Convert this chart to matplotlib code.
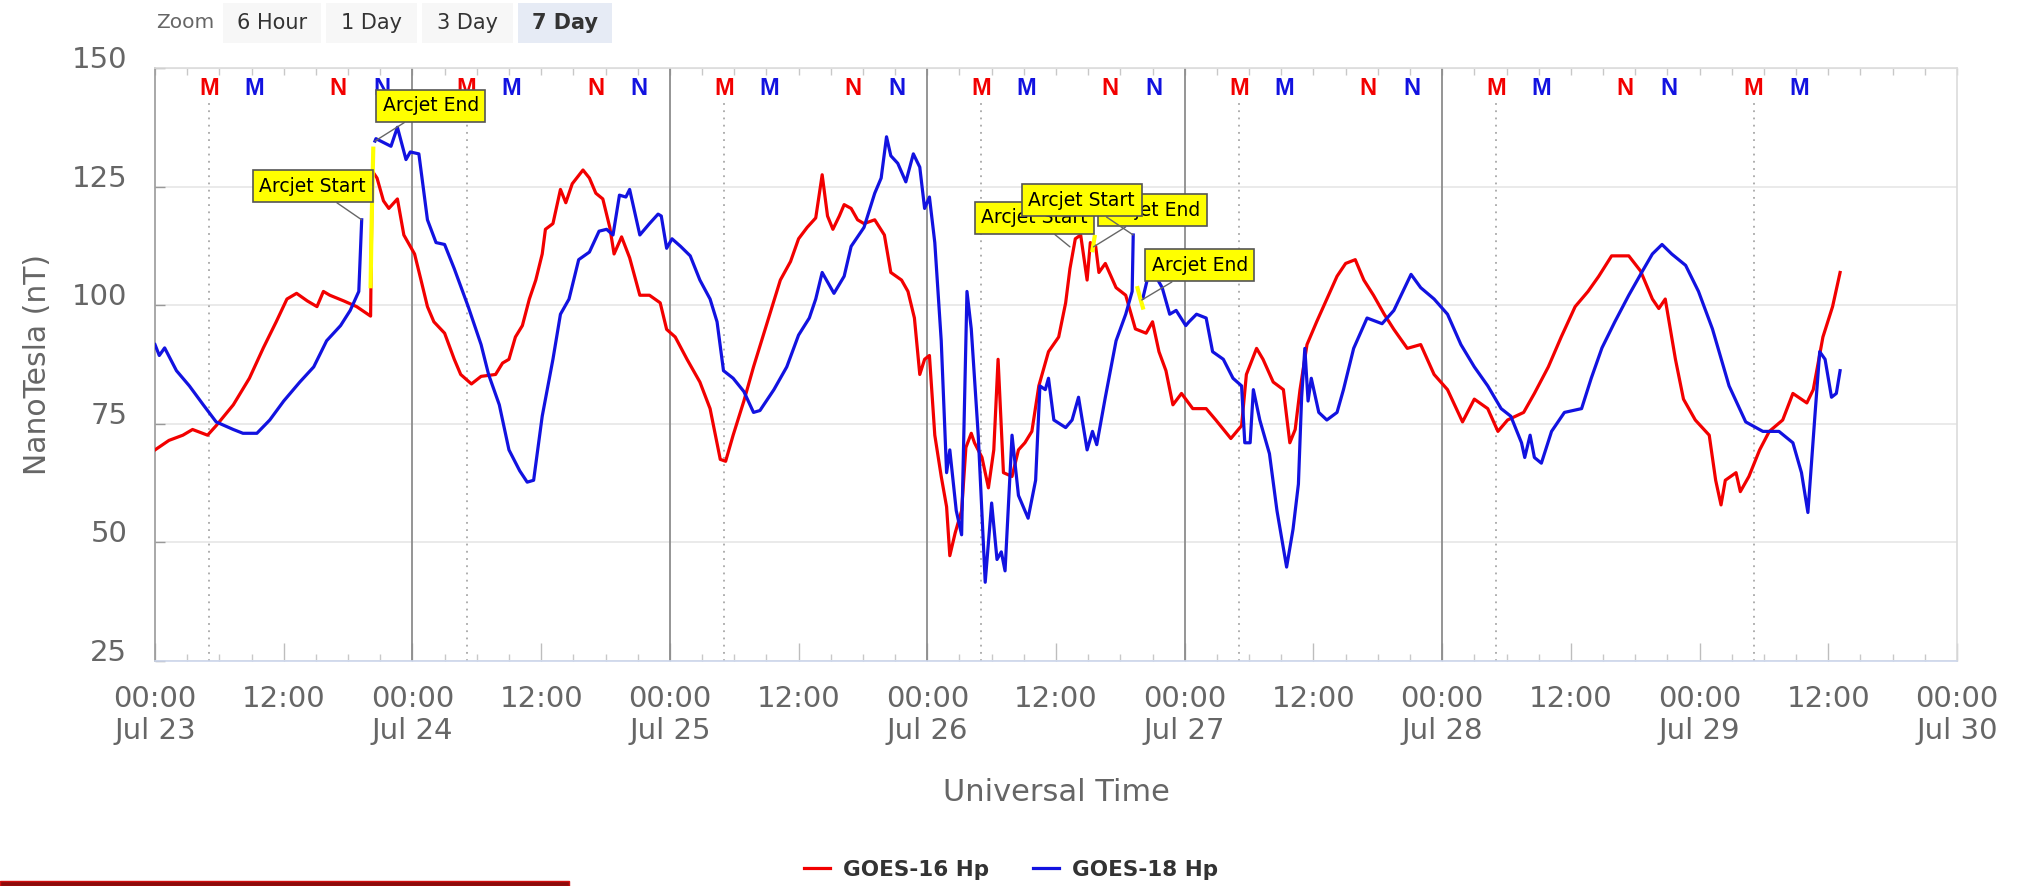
import numpy as np
import matplotlib
matplotlib.use('Agg')
import matplotlib.pyplot as plt
from matplotlib.patches import Rectangle
from matplotlib.lines import Line2D
from matplotlib.ticker import MultipleLocator, FuncFormatter

# x values are hours since Jul 23 00:00 UT
g16_hours = [0, 1.3, 2.6, 3.5, 4.9, 5.7, 7.3, 8.8, 10.1, 11.3, 12.3, 13.2, 14.2, 15.1, 15.7, 16.3,
             17.6, 18.8, 20.1, 20.25, 20.7, 21.3, 21.8, 22.6, 23.2, 24.2, 24.8, 25.4, 26, 27, 27.9,
             28.5, 29.5, 30.4, 31.75, 32.4, 33, 33.6, 34.25, 34.9, 35.5, 36.1, 36.4, 37.1, 37.8,
             38.3, 38.9, 39.9, 40.5, 41.1, 41.75, 42.4, 42.8, 43.5, 44.25, 45.2, 46.1, 47.1, 47.7,
             48.5, 49.6, 50.8, 51.75, 52.7, 53.2, 53.9, 54.9, 55.8, 57.1, 58.3, 59.25, 60, 60.8,
             61.6, 62.2, 62.7, 63.2, 63.8, 64.25, 64.9, 65.5, 66.1, 67.1, 68, 68.6, 69.6, 70.2,
             70.8, 71.3, 71.75, 72.2, 72.7, 73.3, 73.8, 74.1, 74.6, 75.2, 75.6, 76.1, 76.4, 77.1,
             77.7, 78.2, 78.6, 79.1, 79.9, 80.5, 81.1, 81.75, 82.4, 83.3, 84.25, 84.9, 85.3, 85.8,
             86.3, 86.9, 87.2, 87.7, 88, 88.6, 89.6, 90.5, 91.4, 92.4, 93, 93.6, 94.25, 94.9, 95.7,
             96.75, 98, 98.9, 100.3, 101.3, 101.75, 102.7, 103.3, 104.25, 105.2, 105.8, 106.3,
             106.75, 107.4, 108.3, 109.25, 110.2, 111, 111.9, 112.7, 113.6, 114.6, 115.5, 116.75,
             118, 119.25, 120.5, 121.9, 123, 124.25, 125.2, 126.1, 127.6, 128.6, 129.9, 131.1,
             132.4, 133.6, 134.6, 135.8, 137.4, 138.5, 139.6, 140.2, 140.8, 141.75, 142.5, 143.6,
             144.9, 145.5, 146, 146.4, 147.4, 147.8, 148.6, 149.6, 150.5, 151.75, 152.7, 154,
             154.6, 155.5, 156.4, 157.1]
g16_nt = [69.5, 71.5, 72.6, 73.8, 72.6, 74.6, 79, 84.6, 91, 96.5, 101.3, 102.5, 100.9, 99.7, 102.9,
          102.1, 100.9, 99.7, 97.7, 128.3, 126.8, 122, 120.4, 122.4, 114.8, 110.8, 105.3, 99.7, 96.5,
          94.1, 88.6, 85.4, 83.4, 85, 85.4, 87.8, 88.6, 93.3, 95.7, 101.3, 105.3, 110.8, 116, 117.2,
          124.4, 121.6, 125.6, 128.5, 126.8, 123.6, 122.4, 116.4, 110.8, 114.4, 110, 102.1, 102.1,
          100.5, 94.9, 93.3, 88.6, 83.8, 78.2, 67.5, 67.1, 72.6, 79.8, 87, 96.5, 105.3, 109.2, 114,
          116.4, 118.4, 127.5, 118.8, 116, 118.8, 121.2, 120.4, 118, 117.2, 118, 114.8, 106.9,
          105.3, 102.9, 97.3, 85.4, 88.6, 89.4, 72.6, 63.9, 57.5, 47.2, 52, 56.7, 70, 73, 71, 67.9,
          61.5, 69.5, 88.6, 64.7, 63.9, 69.5, 71, 73.4, 83, 90.2, 93.3, 100.5, 107.7, 114, 114.8,
          105.3, 113.2, 112.4, 106.9, 108.8, 103.7, 102.1, 95, 94.1, 96.5, 90.2, 86.2, 79, 81.4,
          78.2, 78.2, 75.8, 71.9, 74.6, 85.4, 90.9, 88.6, 83.8, 82.2, 71, 73.8, 82.2, 91.7, 96.5,
          101.3, 106.1, 108.8, 109.6, 105.3, 102.1, 98.1, 94.9, 90.9, 91.7, 85.4, 82.2, 75.4, 80.2,
          78.2, 73.4, 75.8, 77.4, 81.4, 87, 93.3, 99.7, 102.9, 106.1, 110.4, 110.4, 107.2, 101.3,
          99.3, 101.3, 88.6, 80.2, 75.8, 72.6, 63.1, 57.9, 63.1, 64.7, 60.7, 63.9, 69.5, 73.4, 75.8,
          81.4, 79.4, 82.2, 93.3, 99.7, 106.9]

# nan = no data while the arcjet flag is set
g18_hours = [0, 0.4, 0.9, 2, 3.2, 4.5, 5.7, 7.3, 8.2, 9.5, 10.7, 12, 13.5, 14.8, 16, 17.3, 18.2, 19,
             19.27, 19.8, 20.51, 20.6, 21.3, 22, 22.6, 23.4, 23.8, 24.6, 25.4, 26.2, 27, 27.9, 29.2,
             29.8, 30.4, 31.1, 32.1, 33, 34, 34.7, 35.3, 36.1, 37.1, 37.8, 38.6, 39.5, 40.5, 41.4,
             42.1, 42.7, 43.3, 43.9, 44.25, 45.2, 46.1, 46.9, 47.2, 47.7, 48.2, 49, 49.9, 50.8,
             51.75, 52.4, 53, 53.9, 54.9, 55.8, 56.4, 57.7, 58.9, 60, 61, 61.6, 62.2, 63.3, 64.25,
             64.9, 66.1, 67.1, 67.7, 68.2, 68.6, 69.25, 70, 70.7, 71.3, 71.75, 72.2, 72.7, 73.3,
             73.8, 74.1, 74.7, 75.2, 75.7, 76.1, 76.75, 77.4, 78, 78.5, 78.9, 79.25, 79.9, 80.5,
             81.4, 82.1, 82.5, 83, 83.3, 83.8, 84.9, 85.5, 86.1, 86.9, 87.4, 87.8, 88.6, 89.6, 90.5,
             91.1, 91.2, 91.6, 92.1, 92.5, 93.3, 93.9, 94.6, 95.2, 96.1, 96.4, 97.1, 98, 98.6, 99.6,
             100.5, 101.3, 101.6, 102.1, 102.4, 103, 103.9, 104.6, 105.5, 106.1, 106.6, 106.9,
             107.2, 107.5, 107.8, 108.5, 109.25, 110.2, 110.8, 111.75, 113, 114.4, 115.5, 117.1,
             118, 119.25, 120.5, 121.75, 123, 124.25, 125.5, 126.4, 127.4, 127.7, 128.2, 128.6,
             129.25, 130.2, 131.4, 133, 133.9, 134.9, 136.1, 137.4, 138.6, 139.6, 140.5, 141.4,
             142.7, 143.9, 145.2, 146.75, 148.3, 149.9, 151.4, 152.7, 153.5, 154.1, 154.75, 155.2,
             155.7, 156.3, 156.75, 157.1]
g18_nt = [91.7, 89.4, 91, 86.2, 83, 79, 75.4, 73.8, 73, 73, 75.8, 79.8, 83.8, 87, 92.5, 95.7, 98.9,
          102.9, 118, np.nan, 134.6, 135.1, 134.3, 133.5, 137.5, 130.7, 132.3, 131.9, 118, 113.2,
          112.8, 107.7, 99.7, 95.7, 91.7, 85.4, 79, 69.5, 65.1, 62.7, 63.1, 76.6, 88.6, 98.1, 101.3,
          109.6, 111.2, 115.6, 116, 114.8, 123.2, 122.8, 124.4, 114.8, 117.2, 119.2, 118.8, 112, 114,
          112.4, 110.4, 105.3, 101.3, 96.5, 86.2, 84.6, 81.8, 77.4, 77.8, 82.2, 87, 93.7, 97.3,
          101.3, 106.9, 102.5, 106.1, 112.4, 116.4, 123.6, 126.8, 135.5, 131.5, 129.9, 126, 131.9,
          129.1, 120.4, 122.8, 113.2, 92.5, 64.7, 69.5, 56.7, 51.6, 102.9, 95, 72.6, 41.6, 58.3,
          46.4, 48, 44, 72.6, 59.9, 55.1, 63.1, 83, 82.2, 84.6, 75.8, 74.2, 75.8, 80.6, 69.5, 73.4,
          70.6, 80.6, 92.5, 98.1, 102.9, 114.8, np.nan, 101.5, 105.3, 106.1, 103.7, 98.1, 98.9,
          95.7, 96.5, 98.1, 97.3, 90.2, 88.6, 84.6, 83, 71, 71, 82.2, 75.8, 68.7, 56.7, 44.8, 52.8,
          62.3, 80.6, 90.9, 79.8, 84.6, 77.4, 75.8, 77.4, 82.2, 90.9, 97.3, 96.1, 98.9, 106.5,
          103.7, 101.3, 98.1, 91.7, 87, 83, 78.2, 76.6, 71, 67.9, 72.6, 67.9, 66.7, 73.4, 77.4,
          78.2, 84.6, 91, 96.5, 102.1, 106.9, 110.8, 112.8, 110.8, 108.4, 102.9, 95, 83, 75.4, 73.4,
          73.4, 71, 64.7, 56.3, 76.6, 90.2, 88.6, 80.6, 81.4, 86.2]

# flagged arcjet samples, drawn in yellow
arcjet_hours = [[20.1, 20.2, 20.35], [87.4, 87.5, 87.6], [91.6, 91.85, 92.1]]
arcjet_nt = [[104, 118, 133], [111.6, 113, 114.4], [103.6, 101.5, 99.5]]

# annotation labels: text, point (hour, nT), label box (hour, nT)
note_text = ['Arcjet Start', 'Arcjet End', 'Arcjet Start', 'Arcjet End', 'Arcjet Start', 'Arcjet End']
note_point = [(19.27, 118), (20.51, 134.6), (85.3, 112.3), (87.5, 112.3), (91.2, 114.8), (92.0, 101.1)]
note_box = [(14.7, 125.1), (25.7, 142), (82.0, 118.4), (93.0, 120), (86.4, 122.1), (97.4, 108.4)]

day_labels = ['Jul 23', 'Jul 24', 'Jul 25', 'Jul 26', 'Jul 27', 'Jul 28', 'Jul 29', 'Jul 30']

# local midnight (M) / noon (N) of each satellite, hour of the UT day
g16_midnight, g18_midnight = 5.05, 9.25
g16_noon, g18_noon = 17.07, 21.15
n_midnights, n_noons = 7, 6

red = '#f20000'
blue = '#1212e0'
grey_text = '#666666'

fig = plt.figure(figsize=(20.22, 8.86), dpi=100)
ax = fig.add_axes([155 / 2022, 1 - 661 / 886, 1802 / 2022, 593 / 886])

# the two magnetometer series
ax.plot(g16_hours, g16_nt, color=red, lw=2.3, zorder=4)
ax.plot(g18_hours, g18_nt, color=blue, lw=2.3, zorder=4)
for t, v in zip(arcjet_hours, arcjet_nt):
    ax.plot(t, v, color='#ffff00', lw=3, zorder=5)

# day separators and GOES-16 local midnight
for d in range(1, 6):
    ax.axvline(24 * d, color='#8c8c8c', lw=1.3, zorder=2)
for d in range(n_midnights):
    ax.axvline(24 * d + g16_midnight, ymax=0.945, color='#a8a8a8', lw=1.3, ls=(0, (1, 3)), zorder=2)

# M / N markers along the top
for d in range(n_midnights):
    ax.text(24 * d + g16_midnight, 145.6, 'M', color=red, ha='center', va='center',
            fontsize=17, fontweight='bold', family='Liberation Sans', zorder=3)
    ax.text(24 * d + g18_midnight, 145.6, 'M', color=blue, ha='center', va='center',
            fontsize=17, fontweight='bold', family='Liberation Sans', zorder=3)
for d in range(n_noons):
    ax.text(24 * d + g16_noon, 145.6, 'N', color=red, ha='center', va='center',
            fontsize=17, fontweight='bold', family='Liberation Sans', zorder=3)
    ax.text(24 * d + g18_noon, 145.6, 'N', color=blue, ha='center', va='center',
            fontsize=17, fontweight='bold', family='Liberation Sans', zorder=3)

# annotation callouts
for i in range(len(note_text)):
    ax.annotate(note_text[i], xy=note_point[i], xytext=note_box[i], ha='center', va='center',
                fontsize=13.5, color='black',
                bbox=dict(boxstyle='square,pad=0.35', fc='#ffff00', ec='#555555', lw=1.2),
                arrowprops=dict(arrowstyle='-', color='#666666', lw=1, shrinkA=0, shrinkB=0),
                zorder=6 + i)

# axes limits, ticks and grid
ax.set_xlim(0, 168)
ax.set_ylim(25, 150)
ax.set_yticks([25, 50, 75, 100, 125, 150])
ax.yaxis.grid(True, color='#e6e6e6', lw=1.2)
ax.set_axisbelow(True)

ax.xaxis.set_major_locator(MultipleLocator(12))
ax.xaxis.set_minor_locator(MultipleLocator(3))


def hour_label(h, pos):
    h = int(round(h))
    if h % 24 == 0:
        return '00:00\n' + day_labels[h // 24]
    return '12:00'


ax.xaxis.set_major_formatter(FuncFormatter(hour_label))
ax.tick_params(axis='x', which='major', direction='in', length=13, width=1, color='#bdbdbd',
               pad=17, labelsize=21, labelcolor=grey_text)
ax.tick_params(axis='x', which='minor', direction='in', length=5, width=1, color='#c8c8c8')
ax.tick_params(axis='y', direction='in', length=7, width=1, color='#999999', pad=20,
               labelsize=21, labelcolor=grey_text)
# highcharts puts the y labels a little above their grid line
plt.setp(ax.get_yticklabels(), va='baseline')

# short ticks along the top edge
top = ax.secondary_xaxis('top')
top.xaxis.set_major_locator(MultipleLocator(3))
top.tick_params(direction='in', length=5, width=1, color='#c8c8c8', labeltop=False)
top.spines['top'].set_color('#dcdcdc')

ax.spines['left'].set_color('#9a9a9a')
ax.spines['bottom'].set_color('#ccd6eb')
ax.spines['top'].set_color('#dcdcdc')
ax.spines['right'].set_color('#dcdcdc')
for s in ax.spines.values():
    s.set_linewidth(1.2)

ax.set_ylabel('NanoTesla (nT)', fontsize=21.5, color=grey_text)
ax.yaxis.set_label_coords(-0.057, 0.5)
ax.set_xlabel('Universal Time', fontsize=22, color=grey_text)
ax.xaxis.set_label_coords(0.5, -0.197)

# legend under the axis title
handles = [Line2D([], [], color=red, lw=2.3), Line2D([], [], color=blue, lw=2.3)]
leg = fig.legend(handles, ['GOES-16 Hp', 'GOES-18 Hp'], loc='center',
                 bbox_to_anchor=(1011 / 2022, 1 - 870 / 886), ncol=2, frameon=False,
                 prop={'size': 15.5, 'weight': 'bold'}, handlelength=1.25, handletextpad=0.6,
                 columnspacing=2.0)
for t in leg.get_texts():
    t.set_color('#333333')

# range selector buttons at the top
fig.text(185 / 2022, 1 - 23 / 886, 'Zoom', ha='center', va='center', fontsize=14.5, color=grey_text)
buttons = [(223, 321, '6 Hour'), (326, 417, '1 Day'), (422, 513, '3 Day'), (518, 612, '7 Day')]
for x0, x1, name in buttons:
    selected = name == '7 Day'
    fig.add_artist(Rectangle((x0 / 2022, 1 - 43 / 886), (x1 - x0) / 2022, 40 / 886,
                             transform=fig.transFigure, fc='#e6ebf5' if selected else '#f7f7f7',
                             ec='none'))
    fig.text((x0 + x1) / 2 / 2022, 1 - 23 / 886, name, ha='center', va='center', fontsize=15,
             color='#333333', fontweight='bold' if selected else 'normal')

# dark red bar cut off at the bottom left
fig.add_artist(Rectangle((0, 0), 569 / 2022, 5 / 886, transform=fig.transFigure,
                         fc='#8a0b0b', ec='#d01010', lw=1))

fig.savefig('out.png', dpi=100)
